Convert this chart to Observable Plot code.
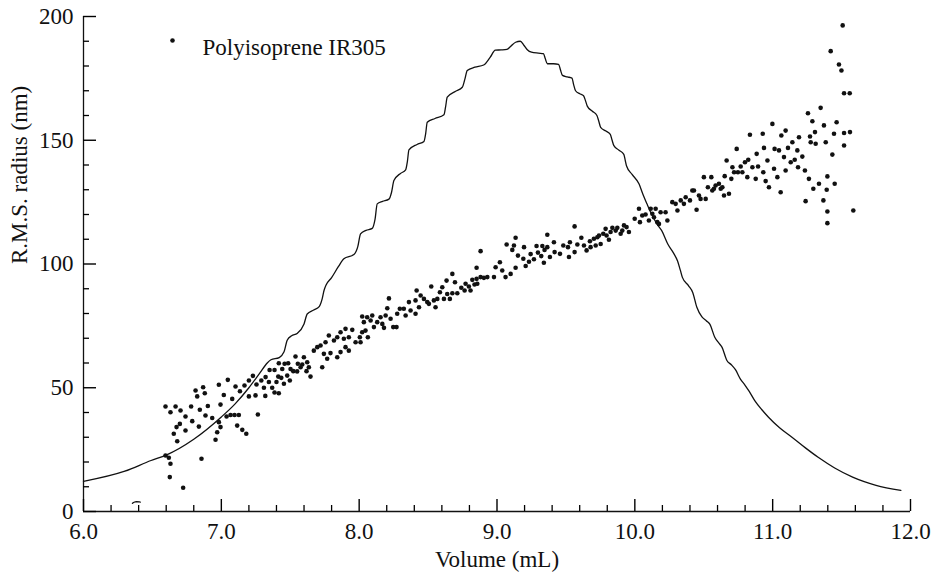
<!DOCTYPE html>
<html>
<head>
<meta charset="utf-8">
<script src="https://cdn.jsdelivr.net/npm/d3@7"></script>
<script src="https://cdn.jsdelivr.net/npm/@observablehq/plot@0.6"></script>
<style>
  html, body { margin: 0; padding: 0; background: #fff; }
  #chart { width: 936px; height: 584px; }
</style>
</head>
<body>
<div id="chart"></div>
<script>
// ---- Data ----
const xLabel = "Volume (mL)";
const yLabel = "R.M.S. radius (nm)";
const legendLabel = "Polyisoprene IR305";

const xDomain = [6, 12];
const yDomain = [0, 200];
const xMajorTicks = [6, 7, 8, 9, 10, 11, 12];
const xMinorTicks = [6.2, 6.4, 6.6, 6.8, 7.2, 7.4, 7.6, 7.8, 8.2, 8.4, 8.6, 8.8, 9.2, 9.4, 9.6, 9.8, 10.2, 10.4, 10.6, 10.8, 11.2, 11.4, 11.6, 11.8];
const yMajorTicks = [0, 50, 100, 150, 200];
const yMinorTicks = [10, 20, 30, 40, 60, 70, 80, 90, 110, 120, 130, 140, 160, 170, 180, 190];

// concentration trace (volume, signal drawn on radius scale)
const chromatogram = [
  [6.0,12.2],[6.3,16.3],[6.49,20.6],[6.6,22.8],[6.8,29.2],[7.0,38.2],[7.1,43.5],[7.2,50],[7.28,56],[7.333,60],
  [7.36,61.3],[7.42,62.2],[7.455,64.5],[7.478,69.2],[7.51,71],[7.55,71.9],[7.6,75.8],[7.623,79.8],[7.67,81.4],[7.71,82.8],
  [7.732,86],[7.745,89.3],[7.76,91.5],[7.8,94.5],[7.85,99],[7.889,102.1],[7.962,103.8],[7.99,107],[8.01,112.2],[8.05,113.6],
  [8.095,114.4],[8.115,118],[8.131,124.3],[8.17,125.3],[8.216,126.2],[8.235,129],[8.252,133.7],[8.3,136.6],[8.337,138],[8.35,141.5],
  [8.361,146.1],[8.42,148.3],[8.47,149.5],[8.482,152.5],[8.494,157.3],[8.55,158.8],[8.615,160.3],[8.627,163.5],[8.639,167.4],[8.7,169.8],
  [8.748,171.4],[8.766,174.5],[8.784,178.2],[8.84,179.5],[8.903,180.4],[8.95,183.5],[8.988,186.4],[9.03,186.5],[9.072,186.7],[9.1,188],
  [9.135,189.6],[9.169,190],[9.195,188.4],[9.22,186.6],[9.25,185.6],[9.3,185.2],[9.337,185],[9.35,183],[9.365,180.9],[9.41,180.9],
  [9.447,180.7],[9.46,178.5],[9.475,176.2],[9.51,175.6],[9.544,175.1],[9.556,172.5],[9.57,170],[9.6,168.8],[9.628,168],[9.642,166],
  [9.655,163.8],[9.69,161.8],[9.725,160],[9.738,157.8],[9.752,155.2],[9.79,153.7],[9.822,152.4],[9.834,150.2],[9.848,147.8],[9.885,146],
  [9.92,144.3],[9.93,142],[9.94,139.6],[9.98,136.2],[10.03,132.4],[10.06,128],[10.088,124.3],[10.12,120.3],[10.16,116.2],[10.197,113.3],
  [10.24,108],[10.28,104.5],[10.31,101.2],[10.33,97.5],[10.345,94.6],[10.39,91.2],[10.42,88.5],[10.45,82.5],[10.487,78.6],[10.52,77],
  [10.545,75.6],[10.58,70.4],[10.61,68],[10.632,66.4],[10.668,61],[10.7,59.3],[10.73,57.3],[10.765,53.6],[10.8,51],[10.83,48.5],
  [10.87,44.8],[10.92,41.2],[10.97,38.1],[11.05,33.8],[11.14,30],[11.24,25.6],[11.33,21.9],[11.45,17.6],[11.58,13.9],[11.75,10.6],
  [11.93,8.5]
];

// small stray mark near the baseline
const strayMark = [[6.355,3.3],[6.372,4.1],[6.412,3.8]];

// R.M.S. radius points (volume, radius)
const radiusPoints = [
  [6.595,42.4],[6.668,42.4],[6.631,40.1],[6.704,40.8],[6.781,42.4],[6.844,41.1],[6.902,42.6],[6.994,43.2],[6.813,48.9],[6.868,50.2],
  [6.825,46.5],[6.880,47.8],[6.982,51.2],[7.047,53.2],[7.018,47.1],[7.079,45.5],[7.103,50.5],[7.135,48.6],[7.168,50.9],[7.2,52.9],
  [7.229,54.8],[7.255,51.3],[7.2,46.5],[7.248,46.9],[7.29,52.9],[7.321,54.3],[7.309,50],[7.319,46.7],[7.35,57.2],[7.386,57.2],
  [7.417,59.9],[7.442,57.6],[7.459,59.7],[7.485,59.9],[7.502,57.6],[7.538,62.6],[7.555,59.7],[7.587,59.4],[7.599,62.3],[7.623,60.3],
  [7.635,58.3],[7.671,65],[7.696,66.4],[7.72,67.1],[7.756,68.4],[7.78,71.1],[7.744,63.7],[7.768,61.7],[7.792,64],[7.732,58.3],
  [7.647,54.5],[6.74,38.4],[6.699,35.4],[6.675,34.1],[6.655,31.4],[6.68,28.4],[6.74,32.7],[6.789,36.5],[6.837,34.3],[6.885,38.8],
  [6.934,37.8],[6.982,36.1],[6.994,34.1],[6.97,32],[6.958,29],[7.038,38.4],[7.067,39],[7.096,39],[7.127,39],[7.115,34.7],
  [7.152,33],[7.181,31.4],[7.265,39.2],[7.345,52.3],[7.369,50],[7.4,52.3],[7.413,54.5],[7.435,54],[7.454,51.6],[7.478,54.9],
  [7.497,52.9],[7.522,56.7],[7.55,56.6],[7.575,58.3],[7.618,56.7],[7.386,48.1],[7.417,47.8],[6.595,22.6],[6.619,21.7],[6.631,19.3],
  [6.626,13.9],[6.856,21.3],[6.723,9.6],
  [7.817,69.1],[7.841,70.4],[7.865,72.4],[7.889,69.8],[7.901,73.8],[7.925,70.4],[7.95,73.4],[7.974,68.4],[8.01,68.4],[8.005,70.4],
  [8.022,72.4],[8.046,73.1],[8.063,70.4],[8.034,76.5],[8.022,78.8],[8.058,78.5],[8.095,79.2],[8.083,77.2],[8.107,74.5],[8.131,76.5],
  [8.155,78.5],[8.168,75.8],[8.18,74.2],[8.204,82.1],[8.216,86.1],[8.192,79.2],[8.228,77.9],[8.247,74.5],[8.271,74.5],[8.276,79.9],
  [8.295,81.9],[8.324,81.9],[8.337,79.2],[8.361,84.6],[8.373,81.2],[8.409,79.9],[8.409,85.3],[8.417,89.3],[8.434,82.5],[8.446,87.3],
  [8.47,85.9],[8.494,84.6],[8.506,83.9],[8.523,90.9],[8.542,85.3],[8.554,82.5],[8.567,85.9],[8.586,88.6],[8.603,90.6],[8.615,85.9],
  [8.634,93.3],[8.639,87.9],[8.658,85.9],[8.676,96],[8.676,88.2],[8.695,92.6],[8.712,88.2],[8.741,90.4],[8.765,89.3],[8.772,92],
  [8.796,90.9],[8.808,89.3],[8.821,93.6],[8.837,91.7],[8.852,94],[8.857,92],[8.881,94.7],[8.905,94.4],[8.93,94.7],[8.852,98.5],
  [8.881,105.2],[7.901,66.4],[7.925,65],[7.865,64.4],[7.841,62.3],
  [8.99,98.7],[9.021,100.7],[9.038,97.4],[8.978,94.7],[9.062,94.7],[9.07,107.9],[9.099,96],[9.111,105.7],[9.123,107.5],[9.135,110.6],
  [9.135,98.5],[9.152,103.4],[9.191,102.1],[9.196,106.8],[9.208,99.2],[9.232,100.9],[9.244,104],[9.268,101.9],[9.287,107.3],[9.297,104.6],
  [9.321,103.2],[9.329,107.3],[9.34,100.5],[9.345,105.7],[9.365,111.8],[9.365,106.8],[9.384,102.8],[9.413,108.8],[9.418,104.8],[9.457,104.1],
  [9.481,107.5],[9.515,106.8],[9.522,102.8],[9.529,108.8],[9.563,115.2],[9.563,104.8],[9.583,107.9],[9.612,110.6],[9.631,107.5],[9.65,105.5],
  [9.674,109.2],[9.679,106.8],[9.703,110.2],[9.716,107.5],[9.728,110.8],[9.74,111.5],[9.752,108.1],[9.771,112.2],[9.788,114.2],[9.795,111.5],
  [9.812,109.8],[9.824,112.9],[9.837,114.6],[9.861,113.5],[9.873,114.6],[9.897,112.2],[9.909,113.5],[9.921,115.6],[9.94,114.9],[9.957,112.9],
  [9.999,118.3],[10.03,122.3],[10.037,116.9],[10.054,119.6],[10.078,120],[10.102,117.6],[10.115,122.3],[10.127,120.3],[10.139,118.9],[10.151,122.3],
  [10.163,116.9],[10.175,116.2],
  [10.187,120.9],[10.223,120.9],[10.236,117.6],[10.272,125],[10.296,124.3],[10.309,121.6],[10.333,125.7],[10.356,124.3],[10.369,127],[10.4,125.7],
  [10.417,129.7],[10.429,129.7],[10.448,121.9],[10.465,127.7],[10.477,126.3],[10.501,135.1],[10.514,126.3],[10.53,131],[10.555,135.1],[10.562,129.7],
  [10.574,130.4],[10.586,131.7],[10.61,132.4],[10.623,130.4],[10.635,131],[10.647,127.7],[10.652,135.5],[10.666,141.8],[10.683,128.4],[10.7,134.4],
  [10.708,139.1],[10.72,137.1],[10.739,146.5],[10.748,137.1],[10.768,139.4],[10.78,137.1],[10.799,141.1],[10.816,135.1],[10.823,142.1],[10.835,152.2],
  [10.853,139.1],[10.877,134.4],[10.884,144.5],[10.894,139.4],[10.928,152.6],[10.932,137.1],[10.937,146.9],[10.949,133.5],[10.962,141.8],[10.973,131],
  [10.998,156.6],[11.01,138.5],[11.014,146.5],[11.034,135.1],[11.046,145.9],[11.058,129],[11.063,151.9],[11.082,143.2],[11.094,153.9],[11.094,137.8],
  [11.111,146.9],[11.131,141.1],[11.143,149.2],[11.16,142.1],[11.179,145.9],[11.184,139.1],[11.191,151.2],[11.215,143.4],[11.234,137.8],[11.239,125.4],
  [11.256,160.9],[11.263,134.4],[11.271,151.5],[11.276,149.2],[11.288,157.7],[11.295,130.4],[11.307,153.3],[11.312,148.6],[11.336,132.4],[11.348,163.1],
  [11.368,125.7],[11.372,156],[11.385,149.2],[11.392,130],[11.397,135.4],[11.397,121.2],[11.397,116.5],[11.421,186],[11.433,144.2],[11.445,152.6],
  [11.45,132.4],[11.464,157.3],[11.481,180.6],[11.499,178.2],[11.508,196.4],[11.518,169],[11.518,152.9],[11.518,147.9],[11.559,169],[11.561,153.3],
  [11.585,121.6]
];

// ---- Chart ----
const ink = "#111";
const W = 936, H = 584;
const margin = {left: 83, right: 26, top: 16, bottom: 73};
const frameW = W - margin.left - margin.right;
const frameH = H - margin.top - margin.bottom;
const majorLen = 12, minorLen = 6;
const yPerPx = (yDomain[1] - yDomain[0]) / frameH;
const xPerPx = (xDomain[1] - xDomain[0]) / frameW;

const chart = Plot.plot({
  width: W,
  height: H,
  marginLeft: margin.left,
  marginRight: margin.right,
  marginTop: margin.top,
  marginBottom: margin.bottom,
  x: {domain: xDomain},
  y: {domain: yDomain},
  style: {
    fontFamily: "'Liberation Serif', 'Times New Roman', serif",
    fontSize: "23px",
    background: "#fff",
    color: ink
  },
  marks: [
    // axis lines
    Plot.ruleY([yDomain[0]], {stroke: ink, strokeWidth: 1.3}),
    Plot.ruleX([xDomain[0]], {stroke: ink, strokeWidth: 1.3}),
    // inward ticks
    Plot.ruleX(xMajorTicks, {x: d => d, y1: yDomain[0], y2: yDomain[0] + majorLen * yPerPx, stroke: "#000", strokeWidth: 1.4}),
    Plot.ruleX(xMinorTicks, {x: d => d, y1: yDomain[0], y2: yDomain[0] + minorLen * yPerPx, stroke: "#000", strokeWidth: 1.3}),
    Plot.ruleY(yMajorTicks, {y: d => d, x1: xDomain[0], x2: xDomain[0] + (majorLen + 1) * xPerPx, stroke: "#000", strokeWidth: 1.4}),
    Plot.ruleY(yMinorTicks, {y: d => d, x1: xDomain[0], x2: xDomain[0] + minorLen * xPerPx, stroke: "#000", strokeWidth: 1.3}),
    // tick labels
    Plot.axisX({ticks: xMajorTicks, tickSize: 0, tickPadding: 11, tickFormat: d => d.toFixed(1), label: null}),
    Plot.axisY({ticks: yMajorTicks, tickSize: 0, tickPadding: 10, tickFormat: d => String(d), label: null}),
    // axis titles
    Plot.text([xLabel], {frameAnchor: "bottom", dy: 55, text: d => d, fill: ink}),
    Plot.text([yLabel], {frameAnchor: "left", dx: -64, rotate: -90, text: d => d, fill: ink}),
    // data
    Plot.line(chromatogram, {x: d => d[0], y: d => d[1], stroke: ink, strokeWidth: 1.3, curve: "monotone-x"}),
    Plot.line(strayMark, {x: d => d[0], y: d => d[1], stroke: ink, strokeWidth: 1.3, curve: "basis"}),
    Plot.dot(radiusPoints, {x: d => d[0], y: d => d[1], r: 2.3, fill: ink, stroke: "none"}),
    // legend
    Plot.dot([legendLabel], {frameAnchor: "top-left", dx: 89, dy: 24, r: 2.3, fill: ink, stroke: "none"}),
    Plot.text([legendLabel], {frameAnchor: "top-left", dx: 119, dy: 22, textAnchor: "start", text: d => d, fill: ink})
  ]
});
document.getElementById("chart").appendChild(chart);
</script>
</body>
</html>
